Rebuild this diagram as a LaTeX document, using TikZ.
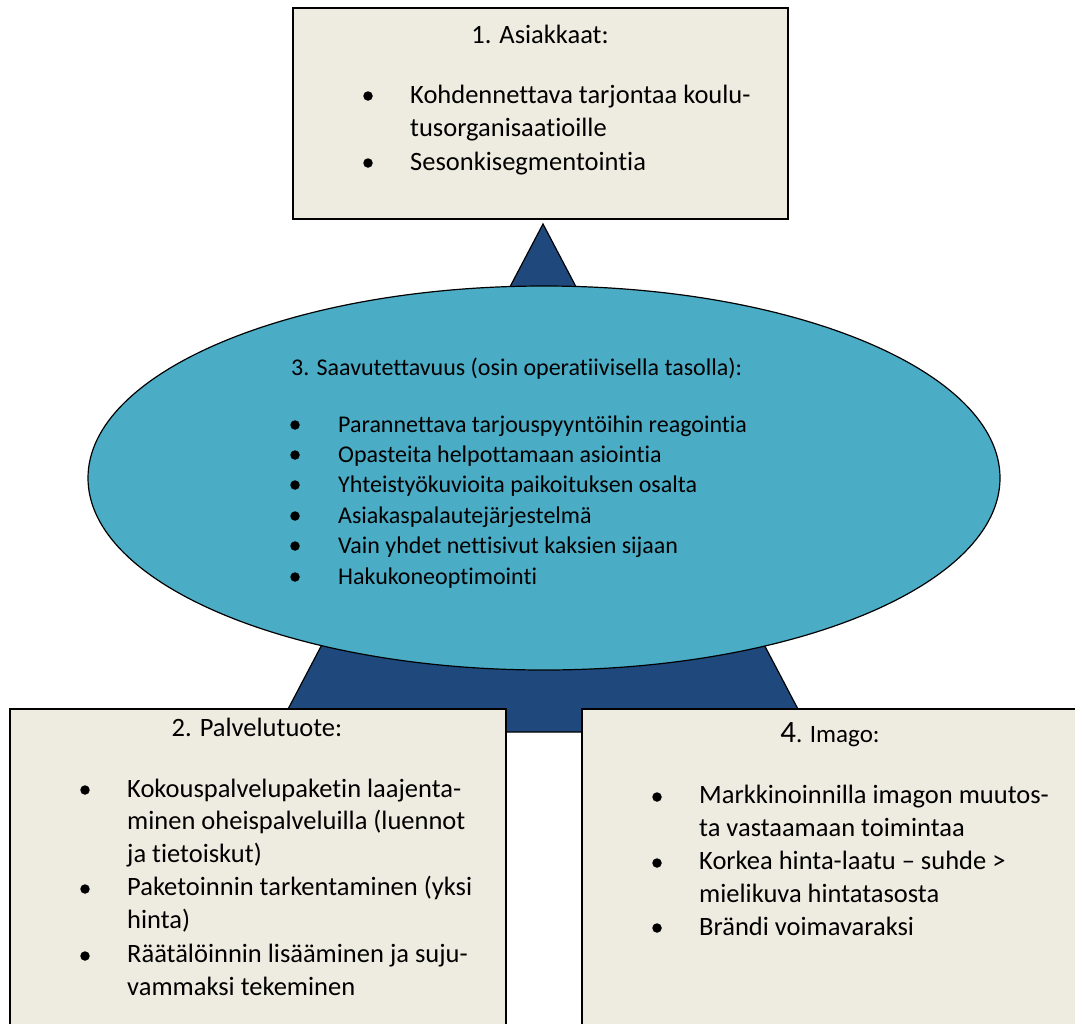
\documentclass[tikz,border=0pt]{standalone}
\usepackage{fontspec}
\setmainfont{Carlito}[Ligatures=NoCommon]
\usetikzlibrary{positioning,shapes.geometric}
\definecolor{boxbeige}{RGB}{238,236,225}
\definecolor{ellblue}{RGB}{75,172,198}
\definecolor{tridark}{RGB}{31,73,125}

\begin{document}
\begin{tikzpicture}[x=1pt, y=-1pt,
                    boxnode/.style={rectangle, draw=black, fill=boxbeige, line width=1.2pt, inner sep=0pt},
                    ellnode/.style={ellipse, draw=black, fill=ellblue, line width=1.2pt, inner sep=0pt},
                    dotnode/.style={circle, fill=black, inner sep=0pt, minimum size=9.5pt},
                    boxtext/.style={inner sep=0pt, anchor=base west, align=left, font=\fontsize{26.5}{32.5}\selectfont},
                    elltext/.style={inner sep=0pt, anchor=base west, align=left, font=\fontsize{24}{30.4}\selectfont},
                ]
                    \useasboundingbox (0,0) rectangle (1075,1023);
                    \clip (0,0) rectangle (1075,1023);

                    %Triangle
                    \coordinate (apex) at (543,224);
                    \coordinate (baseleft) at (276,732);
                    \coordinate (baseright) at (810,732);
                    \draw[fill=tridark, line width=1.2pt, line join=miter](apex) -- (baseleft) -- (baseright) -- cycle;

                    %Nodes
                    \node[ellnode, minimum width=912pt, minimum height=384pt](saavutettavuus) at (544,478) {};
                    \node[boxnode, minimum width=495pt, minimum height=211pt](asiakkaat) at (540.5,113.5) {};
                    \node[boxnode, minimum width=496pt, minimum height=331pt](palvelutuote) at (258,874.5) {};
                    \node[boxnode, minimum width=508pt, minimum height=331pt](imago) at (836,874.5) {};

                    %Texts: 1. Asiakkaat (multi-line texts sit on their last line)
                    \node[boxtext, anchor=base](asiakkaatTitle) at (540,43) {1. Asiakkaat:};
                    \node[dotnode](asiakkaatDot1) at (368,96) {};
                    \node[boxtext](asiakkaatItem1) at (410,136) {Kohdennettava tarjontaa koulu-\\tusorganisaatioille};
                    \node[dotnode](asiakkaatDot2) at (368,163) {};
                    \node[boxtext](asiakkaatItem2) at (410,170) {Sesonkisegmentointia};

                    %Texts: 3. Saavutettavuus
                    \node[elltext](saavTitle) at (291,375) {3. Saavutettavuus (osin operatiivisella tasolla):};
                    \node[dotnode](saavDot1) at (295,425) {};
                    \node[elltext](saavItem1) at (338,432) {Parannettava tarjouspyyntöihin reagointia};
                    \node[dotnode](saavDot2) at (295,455) {};
                    \node[elltext](saavItem2) at (338,462) {Opasteita helpottamaan asiointia};
                    \node[dotnode](saavDot3) at (295,485) {};
                    \node[elltext](saavItem3) at (338,492) {Yhteistyökuvioita paikoituksen osalta};
                    \node[dotnode](saavDot4) at (295,516) {};
                    \node[elltext](saavItem4) at (338,523) {Asiakaspalautejärjestelmä};
                    \node[dotnode](saavDot5) at (295,546) {};
                    \node[elltext](saavItem5) at (338,553) {Vain yhdet nettisivut kaksien sijaan};
                    \node[dotnode](saavDot6) at (295,577) {};
                    \node[elltext](saavItem6) at (338,584) {Hakukoneoptimointi};

                    %Texts: 2. Palvelutuote
                    \node[boxtext, anchor=base](palvTitle) at (257,736) {2. Palvelutuote:};
                    \node[dotnode](palvDot1) at (85,790) {};
                    \node[boxtext](palvItem1) at (127,862) {Kokouspalvelupaketin laajenta-\\minen oheispalveluilla (luennot\\ja tietoiskut)};
                    \node[dotnode](palvDot2) at (85,889) {};
                    \node[boxtext](palvItem2) at (127,928) {Paketoinnin tarkentaminen (yksi\\hinta)};
                    \node[dotnode](palvDot3) at (85,956) {};
                    \node[boxtext](palvItem3) at (127,995) {Räätälöinnin lisääminen ja suju-\\vammaksi tekeminen};

                    %Texts: 4. Imago
                    \node[boxtext, anchor=base, font=\fontsize{25}{30}\selectfont](imagoTitle) at (830,742) {{\fontsize{31}{36}\selectfont 4}. Imago:};
                    \node[dotnode](imagoDot1) at (657,797) {};
                    \node[boxtext](imagoItem1) at (699,836) {Markkinoinnilla imagon muutos-\\ta vastaamaan toimintaa};
                    \node[dotnode](imagoDot2) at (657,863) {};
                    \node[boxtext](imagoItem2) at (699,902) {Korkea hinta-laatu – suhde >\\mielikuva hintatasosta};
                    \node[dotnode](imagoDot3) at (657,928) {};
                    \node[boxtext](imagoItem3) at (699,935) {Brändi voimavaraksi};
                \end{tikzpicture}
\end{document}
